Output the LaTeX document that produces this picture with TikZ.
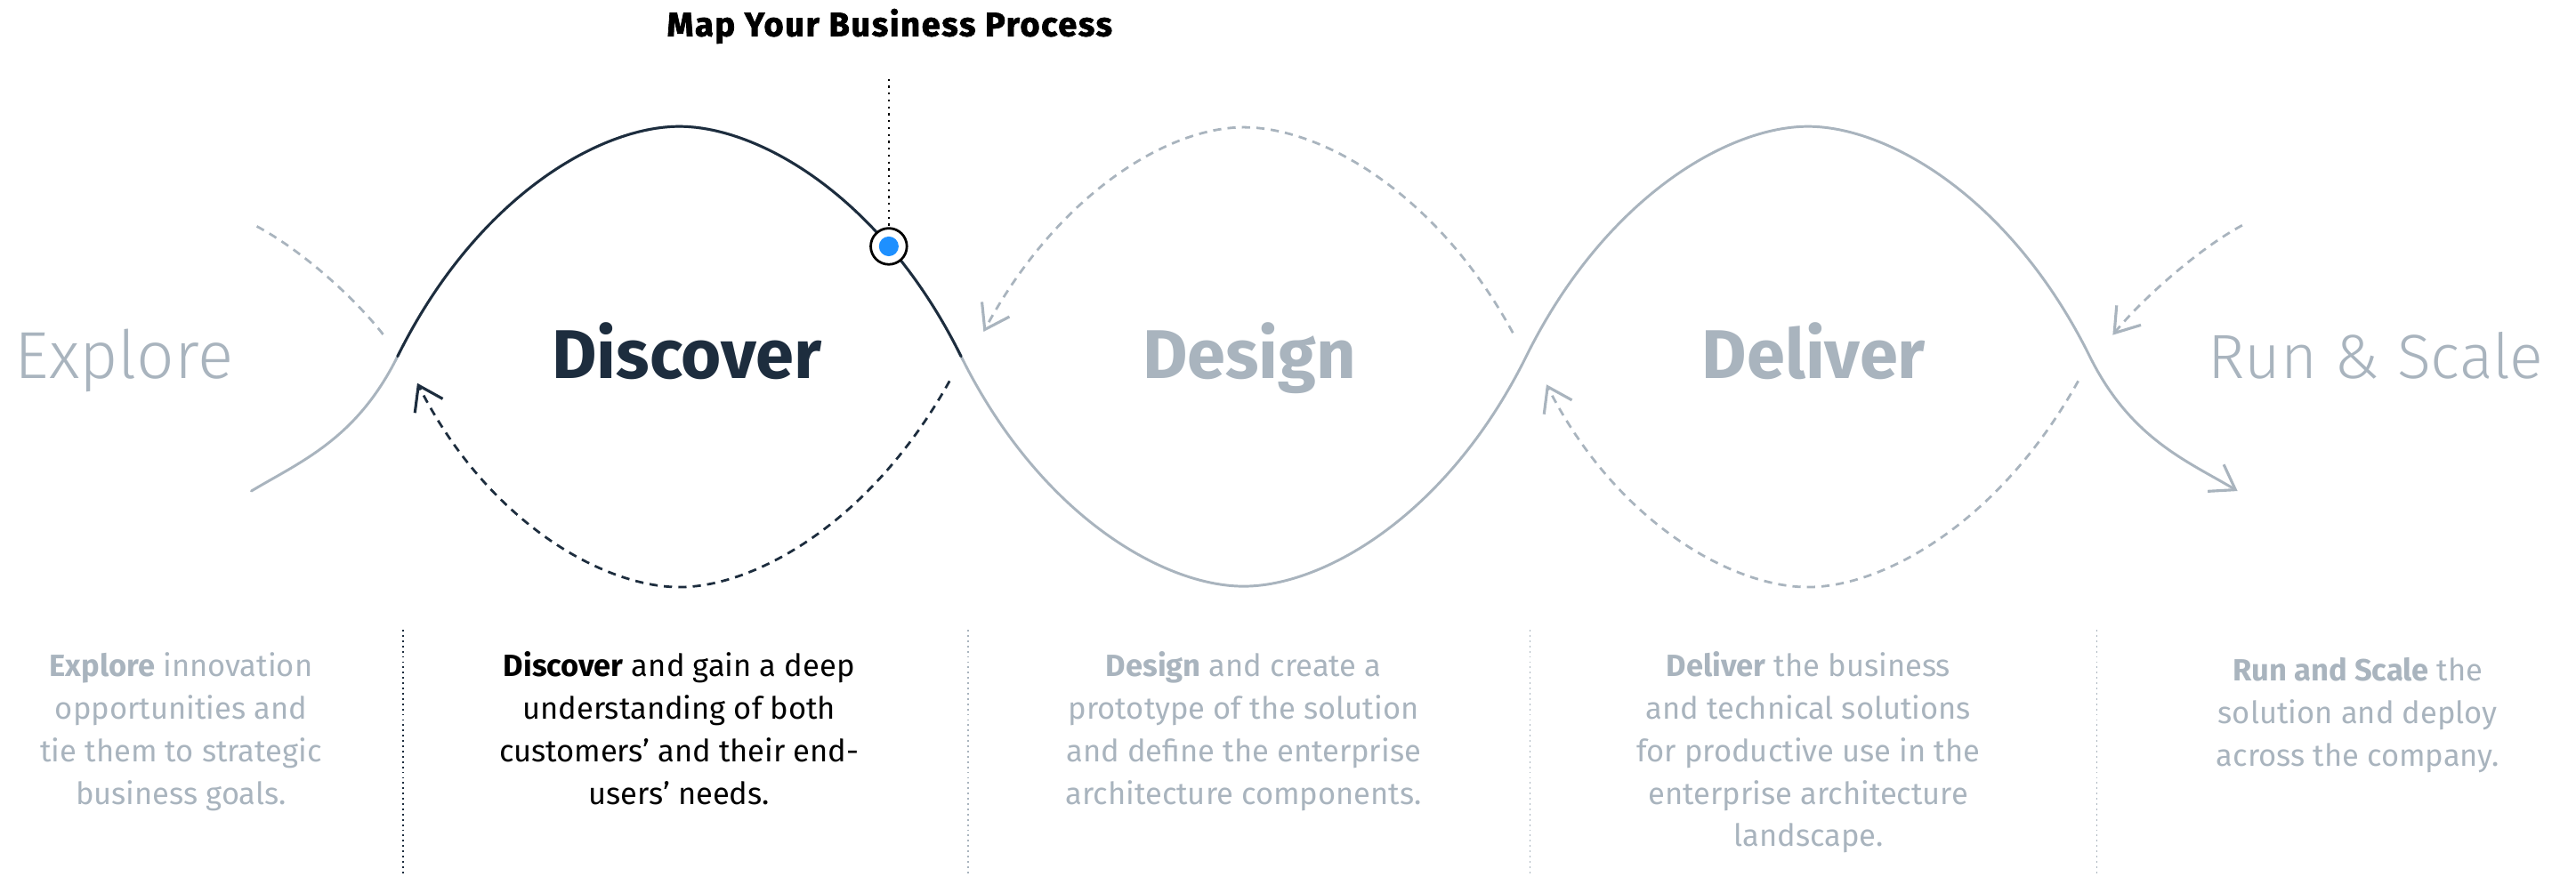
\documentclass[tikz,border=0pt]{standalone}
\usepackage{fontspec}
\setmainfont{Fira Sans}
\newfontfamily\lightfont{Fira Sans Light}
\newfontfamily\heavyfont{Fira Sans Bold}[FakeBold=2,LetterSpace=4.5]
\usetikzlibrary{arrows.meta}
\definecolor{navy}{HTML}{1D2D3E}
\definecolor{greyline}{HTML}{A9B4BE}
\definecolor{greytext}{HTML}{A9B4BE}
\definecolor{dotblue}{HTML}{1E90FF}
\begin{document}
\begin{tikzpicture}[x=1pt,y=-1pt,
  wave/.style={line width=1.6pt,line cap=round},
  greywave/.style={wave,draw=greyline},
  darkwave/.style={wave,draw=navy},
  loopdash/.style={line width=1.5pt,dash pattern=on 5pt off 3.8pt},
  barb/.style={-{Straight Barb[length=14pt,width=19pt,line width=1.7pt]}},
  sepdots/.style={line width=1pt,dash pattern=on 1pt off 2.2pt},
  phase/.style={anchor=base,inner sep=0pt},
  desc/.style={anchor=north,inner sep=0pt,align=center,font=\fontsize{18.7}{25.9}\selectfont}
]
\useasboundingbox (0,0) rectangle (1568,533.5);

% wave key points
\coordinate (A0) at (153,299);
\coordinate (C1) at (242,217);
\coordinate (K1) at (413.5,77);
\coordinate (C2) at (585,217);
\coordinate (T1) at (757,357);
\coordinate (C3) at (929,217);
\coordinate (K2) at (1100.5,77);
\coordinate (C4) at (1272,217);
\coordinate (E0) at (1362,299);

% grey wave
\draw[greywave,barb] (A0) .. controls (183,281) and (217,267.5) .. (C1)
  .. controls (290,120) and (365,77) .. (K1)
  .. controls (462,77) and (537,120) .. (C2)
  .. controls (633,314) and (708.5,357) .. (T1)
  .. controls (805.5,357) and (881,314) .. (C3)
  .. controls (977,120) and (1052,77) .. (K2)
  .. controls (1149,77) and (1224,120) .. (C4)
  .. controls (1297,267.5) and (1332,281) .. (E0);
% dark part
\draw[darkwave] (C1) .. controls (290,120) and (365,77) .. (K1)
  .. controls (462,77) and (537,120) .. (C2);

% dashed loops
\coordinate (xs) at (156.3,137.8);
\coordinate (xe) at (233.5,204);
\draw[loopdash,draw=greyline] (xs) .. controls (184.3,152.8) and (216,181.6) .. (xe);

\coordinate (ds) at (578,232);
\coordinate (dm) at (413.5,357.5);
\coordinate (de) at (254,233.3);
\draw[loopdash,draw=navy,barb] (ds) .. controls (530,318.2) and (459.6,357.5) .. (dm)
  .. controls (367.4,357.5) and (297,318.2) .. (de);

\coordinate (gs) at (920.9,202.7);
\coordinate (gm) at (757,77.5);
\coordinate (ge) at (598.7,202);
\draw[loopdash,draw=greyline,barb] (gs) .. controls (873.5,115.8) and (803.1,77.5) .. (gm)
  .. controls (710.9,77.5) and (644,118) .. (ge);

\coordinate (ls) at (1265,232);
\coordinate (lm) at (1100.5,357.5);
\coordinate (le) at (941.3,234.1);
\draw[loopdash,draw=greyline,barb] (ls) .. controls (1217,318.2) and (1146.6,357.5) .. (lm)
  .. controls (1054.4,357.5) and (984,318.2) .. (le);

\coordinate (rs) at (1364.8,137.2);
\coordinate (re) at (1286,204);
\draw[loopdash,draw=greyline,barb] (rs) .. controls (1337.8,151.7) and (1303,183) .. (re);

% title, pointer and marker
\node[phase] (title) at (541.5,22) {\heavyfont\fontsize{20.5}{24}\selectfont Map Your Business Process};
\node[circle,draw=black,fill=white,line width=1.5pt,minimum size=22pt,inner sep=0pt] (mark) at (541,150) {};
\node[circle,fill=dotblue,minimum size=12pt,inner sep=0pt] (markdot) at (mark.center) {};
\coordinate (ptop) at (541,48);
\draw[line width=1pt,dash pattern=on 1.2pt off 3pt] (ptop) -- (mark.north);

% phase labels
\node[phase,text=greytext] (explore) at (75.5,230.5) {\lightfont\fontsize{40.5}{48}\selectfont Explore};
\node[phase,text=navy] (discover) at (418,230.5) {\fontsize{42}{48}\selectfont\bfseries Discover};
\node[phase,text=greytext] (design) at (760.5,230.5) {\fontsize{42}{48}\selectfont\bfseries Design};
\node[phase,text=greytext] (deliver) at (1104,230.5) {\fontsize{42}{48}\selectfont\bfseries Deliver};
\node[phase,text=greytext] (runscale) at (1446,230.5) {\lightfont\fontsize{38}{48}\selectfont Run \& Scale};

% separators
\foreach \sx/\sc [count=\i] in {245.5/navy,589.3/greyline,931.3/greyline,1276.3/greyline}{
  \coordinate (st\i) at (\sx,383.5);
  \coordinate (sb\i) at (\sx,533.5);
  \draw[sepdots,draw=\sc] (st\i) -- (sb\i);
}

% descriptions
\node[desc,text=greytext] (dexplore) at (110.2,393.6) {\strut\textbf{Explore} innovation\\opportunities and\\tie them to strategic\\business goals.};
\node[desc,text=black] (ddiscover) at (413.4,393.6) {\strut\textbf{Discover} and gain a deep\\understanding of both\\customers’ and their end-\\users’ needs.};
\node[desc,text=greytext] (ddesign) at (757,393.6) {\strut\textbf{Design} and create a\\prototype of the solution\\and define the enterprise\\architecture components.};
\node[desc,text=greytext] (ddeliver) at (1100.8,393.6) {\strut\textbf{Deliver} the business\\and technical solutions\\for productive use in the\\enterprise architecture\\landscape.};
\node[desc,text=greytext] (drun) at (1435.2,396.3) {\strut\textbf{Run and Scale} the\\solution and deploy\\across the company.};
\end{tikzpicture}
\end{document}
